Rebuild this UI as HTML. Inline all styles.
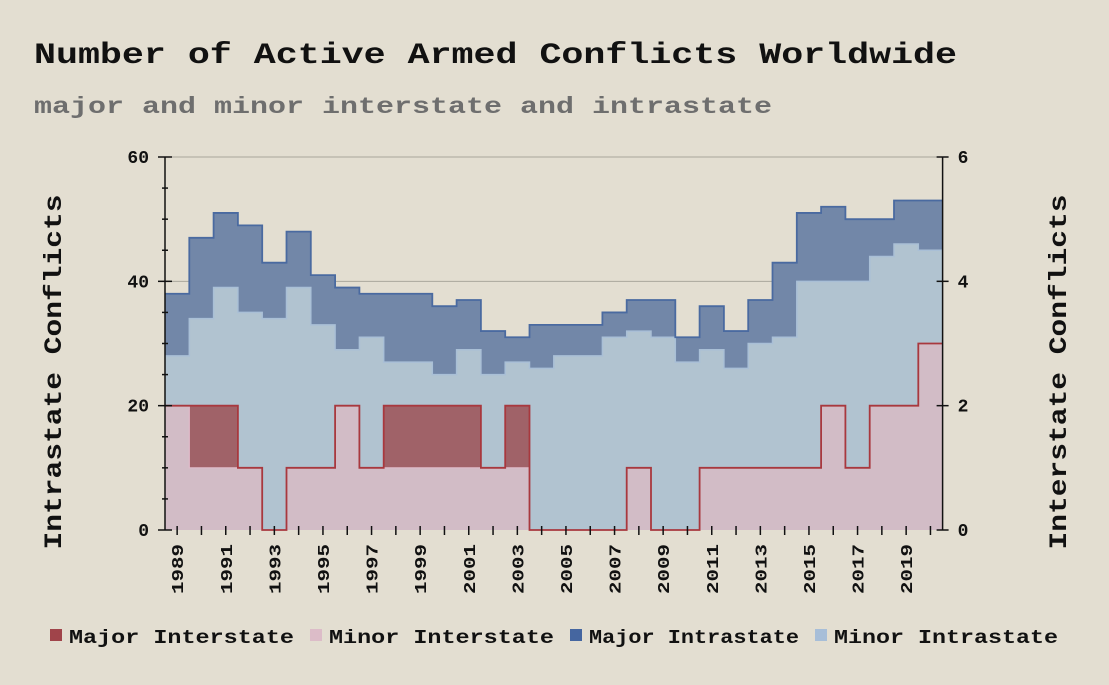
<!DOCTYPE html>
<html><head><meta charset="utf-8"><style>
body{margin:0;background:#e3ded1;}
svg{display:block;font-family:"Liberation Mono",monospace;}
</style></head><body>
<svg width="1109" height="685" id="svg">
<rect width="1109" height="685" fill="#e3ded1"/>
<text x="34" y="63" font-size="30" font-weight="bold" fill="#111" textLength="923" lengthAdjust="spacingAndGlyphs">Number of Active Armed Conflicts Worldwide</text>
<text x="34" y="113" font-size="23" font-weight="bold" fill="#6e6e6e" textLength="738" lengthAdjust="spacingAndGlyphs">major and minor interstate and intrastate</text>
<text transform="translate(61,372) rotate(-90)" text-anchor="middle" font-size="25" font-weight="bold" fill="#111" textLength="355" lengthAdjust="spacingAndGlyphs">Intrastate Conflicts</text>
<text transform="translate(1066,372) rotate(-90)" text-anchor="middle" font-size="25" font-weight="bold" fill="#111" textLength="355" lengthAdjust="spacingAndGlyphs">Interstate Conflicts</text>
<g id="plot"></g>
<g id="legend" font-size="19" font-weight="bold" fill="#111">
<rect x="50" y="629" width="12" height="12" fill="#a0444a"/>
<text x="69" y="643" textLength="225" lengthAdjust="spacingAndGlyphs">Major Interstate</text>
<rect x="310" y="629" width="12" height="12" fill="#dcbcc8"/>
<text x="329" y="643" textLength="225" lengthAdjust="spacingAndGlyphs">Minor Interstate</text>
<rect x="570" y="629" width="12" height="12" fill="#4566a0"/>
<text x="589" y="643" textLength="210" lengthAdjust="spacingAndGlyphs">Major Intrastate</text>
<rect x="815" y="629" width="12" height="12" fill="#a7bed8"/>
<text x="834" y="643" textLength="224" lengthAdjust="spacingAndGlyphs">Minor Intrastate</text>
</g>
</svg>
<script>
const years=[1989,1990,1991,1992,1993,1994,1995,1996,1997,1998,1999,2000,2001,2002,2003,2004,2005,2006,2007,2008,2009,2010,2011,2012,2013,2014,2015,2016,2017,2018,2019,2020];
const minorIntra=[28,34,39,35,34,39,33,29,31,27,27,25,29,25,27,26,28,28,31,32,31,27,29,26,30,31,40,40,40,44,46,45];
const majorIntra=[10,13,12,14,9,9,8,10,7,11,11,11,8,7,4,7,5,5,4,5,6,4,7,6,7,12,11,12,10,6,7,8];
const minorInter=[2,1,1,1,0,1,1,2,1,1,1,1,1,1,1,0,0,0,0,1,0,0,1,1,1,1,1,2,1,2,2,3];
const majorInter=[0,1,1,0,0,0,0,0,0,1,1,1,1,0,1,0,0,0,0,0,0,0,0,0,0,0,0,0,0,0,0,0];
const leftTicks=[0,20,40,60];
const rightTicks=[0,2,4,6];

const NS="http://www.w3.org/2000/svg";
const g=document.getElementById('plot');
const X0=165,X1=942.6,Y0=530,Y1=157;
const n=years.length, step=(X1-X0)/n;
const xs=i=>X0+i*step;
const yL=v=>Y0-(v/60)*(Y0-Y1);
const yR=v=>Y0-(v/6)*(Y0-Y1);
function mk(tag,attrs){const e=document.createElementNS(NS,tag);for(const k in attrs)e.setAttribute(k,attrs[k]);g.appendChild(e);return e;}
function stepPts(vals,yf){let p=[];vals.forEach((v,i)=>{p.push([xs(i),yf(v)],[xs(i+1),yf(v)]);});return p;}
function band(lo,hi,yf,fill,name){
  const top=stepPts(hi,yf),bot=stepPts(lo,yf).reverse();
  const e=mk('polygon',{points:top.concat(bot).map(p=>p.join(',')).join(' '),fill:fill});
  
  
}
function line(vals,yf,stroke,w,name){
  const e=mk('polyline',{points:stepPts(vals,yf).map(p=>p.join(',')).join(' '),fill:'none',stroke:stroke,'stroke-width':w});
  
  
}
leftTicks.forEach(t=>{if(t>0){const e=mk('line',{x1:X0,x2:X1,y1:yL(t),y2:yL(t),stroke:'#aaa79c','stroke-width':1});

}});
const zeros=years.map(()=>0);
const totIntra=minorIntra.map((v,i)=>v+majorIntra[i]);
const totInter=minorInter.map((v,i)=>v+majorInter[i]);
band(zeros,minorIntra,yL,'#b1c3d0','area-minor-intrastate');
band(minorIntra,totIntra,yL,'#7287a8','area-major-intrastate');
band(zeros,minorInter,yR,'#d2bcc6','area-minor-interstate');
band(minorInter,totInter,yR,'#a06268','area-major-interstate');
line(minorIntra,yL,'#a9bfd6',1.5,'line-minor-intrastate');
line(totIntra,yL,'#4a6aa0',1.8,'line-major-intrastate');
line(minorInter,yR,'#e0bccb',1.2,'line-minor-interstate');
line(totInter,yR,'#a8383e',1.8,'line-major-interstate');
let e=mk('line',{x1:X0,x2:X0,y1:Y1,y2:Y0,stroke:'#111','stroke-width':1.5});


e=mk('line',{x1:X1,x2:X1,y1:Y1,y2:Y0,stroke:'#111','stroke-width':1.5});


for(let v=0;v<=60;v+=5){const big=v%20===0;const t=mk('line',{x1:X0-(big?7:3),x2:X0+(big?7:3),y1:yL(v),y2:yL(v),stroke:'#111','stroke-width':1.5});

}
leftTicks.forEach(v=>{const t=mk('text',{x:X0-16,y:yL(v)+6,'text-anchor':'end','font-size':18,'font-weight':'bold',fill:'#111'});t.textContent=v;

});
rightTicks.forEach(v=>{const l=mk('line',{x1:X1-6,x2:X1+6,y1:yR(v),y2:yR(v),stroke:'#111','stroke-width':1.5});


const t=mk('text',{x:X1+15,y:yR(v)+6,'font-size':18,'font-weight':'bold',fill:'#111'});t.textContent=v;

});
years.forEach((yr,i)=>{const cx=xs(i)+step/2;
const l=mk('line',{x1:cx,x2:cx,y1:Y0-4,y2:Y0+5,stroke:'#111','stroke-width':1.5});


if(yr%2===1){const t=mk('text',{transform:`translate(${cx+6},${Y0+14}) rotate(-90)`,'text-anchor':'end','font-size':17,'font-weight':'bold',fill:'#111',textLength:50,lengthAdjust:'spacingAndGlyphs'});t.textContent=yr;

}});
</script>
</body></html>
